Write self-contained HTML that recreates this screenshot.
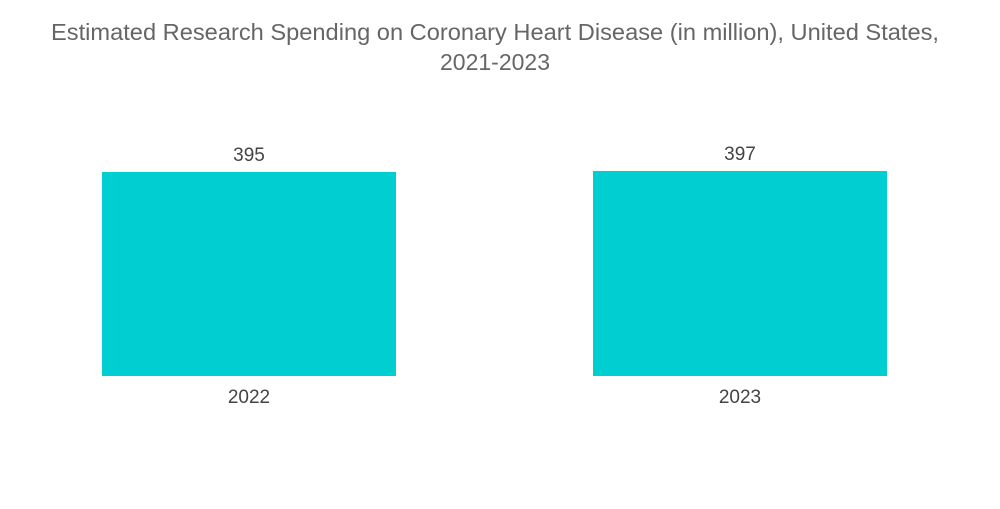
<!DOCTYPE html>
<html><head><meta charset="utf-8"><style>
body{margin:0;background:#fff;width:1000px;height:504px;overflow:hidden;font-family:"Liberation Sans",sans-serif}
</style></head><body>
<svg width="1000" height="504">
<text x="495" y="40" text-anchor="middle" font-size="23" fill="#666" textLength="888" lengthAdjust="spacingAndGlyphs">Estimated Research Spending on Coronary Heart Disease (in million), United States,</text>
<text x="495" y="70" text-anchor="middle" font-size="23" fill="#666">2021-2023</text>
<g id="bars"></g>
</svg>
<script>
const categories=["2022","2023"];
const values=[395,397];
const labels=["395","397"];
const baseY=376, scale=204/395;
const xs=[102,593], bw=294;
const g=document.getElementById('bars');
const ns="http://www.w3.org/2000/svg";
function yPos(v){return baseY-v*scale;}
categories.forEach((c,i)=>{
  const r=document.createElementNS(ns,'rect');
  r.setAttribute('x',xs[i]);r.setAttribute('y',yPos(values[i]));
  r.setAttribute('width',bw);r.setAttribute('height',baseY-yPos(values[i]));
  r.setAttribute('fill','#00CED1');
  
  
  g.appendChild(r);
  const t=document.createElementNS(ns,'text');
  t.setAttribute('x',xs[i]+bw/2);t.setAttribute('y',yPos(values[i])-11);
  t.setAttribute('text-anchor','middle');t.setAttribute('font-size','19');t.setAttribute('fill','#444');
  t.textContent=labels[i];
  
  
  g.appendChild(t);
  const l=document.createElementNS(ns,'text');
  l.setAttribute('x',xs[i]+bw/2);l.setAttribute('y',403);
  l.setAttribute('text-anchor','middle');l.setAttribute('font-size','19');l.setAttribute('fill','#444');
  l.textContent=c;
  
  
  g.appendChild(l);
});
</script>
</body></html>
